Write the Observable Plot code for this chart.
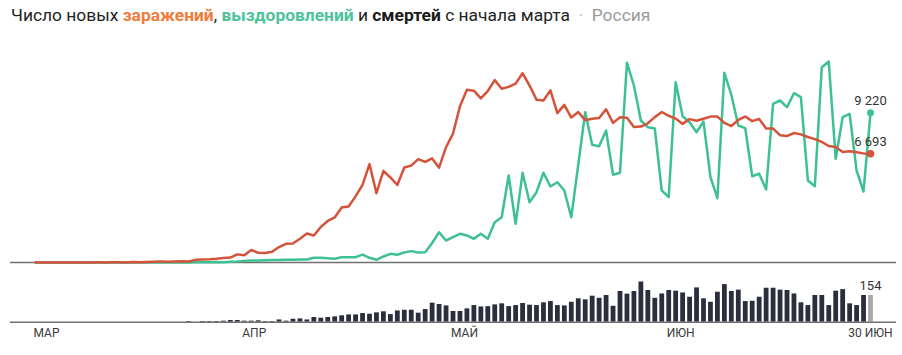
<!DOCTYPE html>
<html>
<head>
<meta charset="utf-8">
<script src="https://cdn.jsdelivr.net/npm/d3@7"></script>
<script src="https://cdn.jsdelivr.net/npm/@observablehq/plot@0.6"></script>
<style>
  html, body { margin: 0; padding: 0; background: #fff; }
  #wrap { position: relative; width: 902px; height: 355px; overflow: hidden; font-family: Roboto, "Open Sans", sans-serif; }
  #title { position: absolute; left: 11px; top: 5px; font-size: 17.4px; color: #222; white-space: nowrap; z-index: 2; }
  #title b { font-weight: 700; }
  #topchart { position: absolute; left: 0; top: 0; }
  #botchart { position: absolute; left: 0; top: 270px; }
</style>
</head>
<body>
<div id="wrap">
  <div id="title">Число новых <b style="color:#f07c3c">заражений</b>, <b style="color:#4cc49a">выздоровлений</b> и <b style="color:#1a1a1a">смертей</b> с начала марта <span style="color:#bbb">&nbsp;·</span>&nbsp; <span style="color:#9a9a9a">Россия</span></div>
  <div id="topchart"></div>
  <div id="botchart"></div>
</div>
<script>
// ---- DATA (daily, 2 March – 30 June 2020) ----
const startDate = "2020-03-02";
const endDate = "2020-06-30";

const cases = [
  // March 2–31
  1, 0, 0, 1, 6, 1, 3, 0, 3, 8, 6, 11, 14, 4, 30, 21, 33, 52, 54, 53, 61, 71, 57, 163, 182, 196, 228, 270, 302, 501,
  // April
  440, 771, 601, 582, 658, 954, 1154, 1175, 1459, 1786, 1667, 2186, 2558, 2774, 3388, 3448, 4070, 4785, 6060, 4268,
  5642, 5236, 4774, 5849, 5966, 6361, 6198, 6411, 5841, 7099,
  // May
  7933, 9623, 10633, 10581, 10102, 10559, 11231, 10699, 10817, 11012, 11656, 10899, 10028, 9974, 10598, 9200,
  9709, 8926, 9263, 8764, 8849, 8894, 9434, 8599, 8946, 8915, 8338, 8371, 8572, 8952, 9268,
  // June
  9035, 8863, 8536, 8831, 8726, 8855, 8984, 8985, 8595, 8404, 8779, 8987, 8706, 8835, 8246, 8248, 7843, 7790,
  7972, 7889, 7728, 7600, 7425, 7176, 7113, 6800, 6852, 6791, 6719, 6693
];

const recovered = [
  // March 2–31
  0, 0, 0, 0, 0, 0, 2, 0, 0, 0, 0, 0, 1, 0, 1, 2, 2, 2, 5, 3, 3, 5, 4, 8, 20, 10, 30, 20, 45, 60,
  // April
  100, 120, 130, 140, 150, 160, 165, 170, 180, 185, 290, 290, 260, 230, 326, 330, 326, 490, 290, 165,
  370, 535, 475, 620, 700, 620, 634, 1200, 1866, 1355,
  // May
  1558, 1767, 1663, 1460, 1767, 1460, 2482, 2790, 5357, 2383, 5524, 3713, 4329, 5524, 4680, 4945,
  4434, 2790, 6020, 9255, 7248, 7162, 8129, 5401, 5524, 12298, 10900, 8744, 8332, 8250, 4434,
  // June
  4023, 11103, 9010, 8640, 8024, 8683, 5253, 3960, 11682, 10327, 8437, 8270, 5314, 5462, 4495, 9773, 9976,
  9563, 10426, 10179, 5050, 4700, 12027, 12378, 6386, 8948, 9157, 5665, 4372, 9220
];

const deaths = [
  // March 2–31
  0, 0, 0, 0, 0, 0, 0, 0, 0, 0, 0, 0, 0, 0, 0, 0, 0, 0, 0, 0, 0, 0, 4, 0, 4, 4, 4, 6, 10, 10,
  // April
  6, 6, 8, 4, 4, 13, 6, 17, 19, 13, 27, 23, 27, 31, 37, 42, 42, 50, 46, 54,
  60, 44, 65, 69, 69, 52, 73, 110, 102, 94,
  // May
  62, 62, 77, 96, 88, 90, 100, 106, 90, 96, 108, 98, 96, 112, 119, 96,
  94, 115, 135, 129, 150, 138, 154, 92, 177, 162, 177, 232, 183, 138, 163,
  // June
  183, 179, 169, 144, 198, 135, 115, 173, 217, 177, 185, 119, 121, 144, 196, 196, 185,
  183, 163, 112, 96, 154, 154, 96, 179, 188, 106, 96, 154, 154
];

const tickDates = ["2020-03-02", "2020-04-01", "2020-05-01", "2020-06-01", "2020-06-30"];
const tickLabels = ["МАР", "АПР", "МАЙ", "ИЮН", "30 ИЮН"];

// ---- build table ----
const dates = d3.utcDay.range(new Date(startDate), d3.utcDay.offset(new Date(endDate), 1));
const rows = dates.map((date, i) => ({date, cases: cases[i], recovered: recovered[i], deaths: deaths[i]}));
const lastRow = [rows[rows.length - 1]];
const ticks = tickDates.map((d, i) => ({date: new Date(d), label: tickLabels[i]}));
const fmt = v => d3.format(",")(v).replace(/,/g, " ");

const xScale = {type: "utc", domain: [dates[0], dates[dates.length - 1]], range: [35, 870], axis: null};
const font = "Roboto, 'Open Sans', sans-serif";

const C_CASES = "#d4533a", C_REC = "#3ec191", C_DEATH = "#2b2e3d";

const topPlot = Plot.plot({
  width: 902, height: 270,
  marginLeft: 10, marginRight: 6, marginTop: 0, marginBottom: 0,
  x: xScale,
  y: {domain: [0, 12500], range: [262, 262 - 12500 / 61.58], axis: null},
  style: {background: "transparent", fontFamily: font, overflow: "visible"},
  marks: [
    Plot.ruleY([0], {stroke: "#707070", strokeWidth: 1.5}),
    Plot.line(rows, {x: "date", y: "recovered", stroke: C_REC, strokeWidth: 2.5, strokeLinejoin: "round"}),
    Plot.line(rows, {x: "date", y: "cases", stroke: C_CASES, strokeWidth: 2.5, strokeLinejoin: "round"}),
    Plot.dot(lastRow, {x: "date", y: "recovered", r: 3.5, fill: C_REC, stroke: null}),
    Plot.dot(lastRow, {x: "date", y: "cases", r: 3.8, fill: C_CASES, stroke: null}),
    Plot.text(lastRow, {x: "date", y: "recovered", text: d => fmt(d.recovered), dy: -12, fontSize: 13, fill: "#333"}),
    Plot.text(lastRow, {x: "date", y: "cases", text: d => fmt(d.cases), dy: -12, fontSize: 13, fill: "#333"})
  ]
});
document.getElementById("topchart").appendChild(topPlot);

const botPlot = Plot.plot({
  width: 902, height: 85,
  marginLeft: 10, marginRight: 6, marginTop: 0, marginBottom: 0,
  x: xScale,
  y: {domain: [0, 250], range: [51.7, 51.7 - 250 / 5.77], axis: null},
  style: {background: "transparent", fontFamily: font, overflow: "visible"},
  marks: [
    Plot.ruleX(rows.slice(0, -1).filter(d => d.deaths > 0), {x: "date", y1: 0, y2: "deaths", stroke: C_DEATH, strokeWidth: 4.8}),
    Plot.ruleX(lastRow, {x: "date", y1: 0, y2: "deaths", stroke: "#a8a8a8", strokeWidth: 4.8}),
    Plot.ruleY([0], {stroke: "#707070", strokeWidth: 1.5}),
    Plot.text(lastRow, {x: "date", y: "deaths", text: d => fmt(d.deaths), dy: -10, fontSize: 13, fill: "#333"}),
    Plot.text(ticks.slice(0, -1), {x: "date", text: "label", frameAnchor: "bottom", lineAnchor: "middle", dy: -22, dx: -2, textAnchor: "start", fontSize: 12, fill: "#3a3a3a"}),
    Plot.text(ticks.slice(-1), {x: "date", text: "label", frameAnchor: "bottom", lineAnchor: "middle", dy: -22, textAnchor: "middle", fontSize: 12, fill: "#3a3a3a"})
  ]
});
document.getElementById("botchart").appendChild(botPlot);
</script>
</body>
</html>
